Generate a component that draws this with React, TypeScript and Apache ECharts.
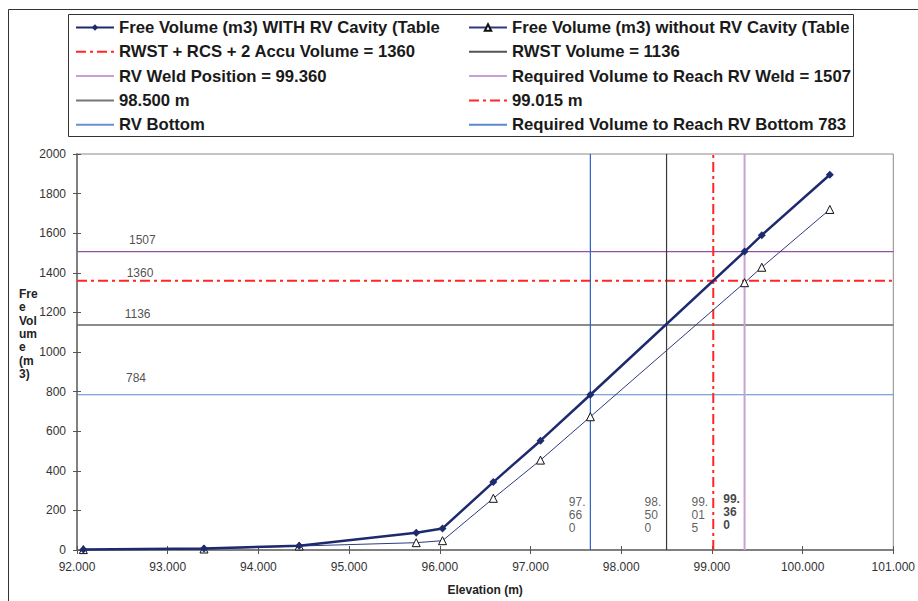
import React, { useEffect, useRef } from 'react';
import * as echarts from 'echarts';

// ---- data ----
const elevations = [92.07, 93.4, 94.45, 95.74, 96.03, 96.59, 97.11, 97.66, 99.36, 99.55, 100.3];
const volumeWithCavity = [3, 8, 22, 87, 109, 343, 552, 784, 1507, 1590, 1895];
const volumeWithoutCavity = [2, 5, 20, 37, 47, 261, 454, 673, 1350, 1428, 1720];

const seriesWithName = 'Free Volume (m3) WITH RV Cavity (Table';
const seriesWithoutName = 'Free Volume (m3) without RV Cavity (Table';

const hRefNames = [
  'Required Volume to Reach RV Weld = 1507',
  'RWST + RCS + 2 Accu Volume = 1360',
  'RWST Volume = 1136',
  'Required Volume to Reach RV Bottom 783',
];
const hRefValues = [1507, 1360, 1136, 784];
const hRefLabels = ['1507', '1360', '1136', '784'];

const vRefNames = ['RV Bottom', '98.500 m', '99.015 m', 'RV Weld Position = 99.360'];
const vRefValues = [97.66, 98.5, 99.015, 99.36];

const xMin = 92;
const xMax = 101;
const xStep = 1;
const yMin = 0;
const yMax = 2000;
const yStep = 200;

const legendLeftColumn = [
  seriesWithName,
  'RWST + RCS + 2 Accu Volume = 1360',
  'RV Weld Position = 99.360',
  '98.500 m',
  'RV Bottom',
];
const legendRightColumn = [
  seriesWithoutName,
  'RWST Volume = 1136',
  'Required Volume to Reach RV Weld = 1507',
  '99.015 m',
  'Required Volume to Reach RV Bottom 783',
];

// ---- styles ----
const FONT = '"Liberation Sans", Arial, sans-serif';
const dashDot = [10, 4, 3, 4];
const hRefStyles = [
  { color: '#9352A3', width: 1.2, type: 'solid' as any },
  { color: '#FF2626', width: 2, type: dashDot as any },
  { color: '#666666', width: 1.6, type: 'solid' as any },
  { color: '#5A8AD2', width: 1.2, type: 'solid' as any },
];
const vRefStyles = [
  { color: '#2C62C4', width: 1.2, type: 'solid' as any },
  { color: '#3a3a3a', width: 1.2, type: 'solid' as any },
  { color: '#FF2626', width: 2, type: dashDot as any },
  { color: '#C8A0D2', width: 2, type: 'solid' as any },
];
const legendLineOverrides: Record<string, string> = {
  'Required Volume to Reach RV Weld = 1507': '#C8A0D2',
  'RV Bottom': '#6A90D0',
  '98.500 m': '#777777',
  'RWST Volume = 1136': '#555555',
};
const hLabelOffsets = [
  [52, -11.5],
  [49.7, -7.7],
  [47.7, -11],
  [49, -16.5],
];
const vLabelOffsets = [
  [-21.5, -35],
  [-22, -35],
  [-21.8, -35],
  [-21.3, -38],
];

function splitElevation(v: number) {
  const s = v.toFixed(3);
  return s.slice(0, 3) + '\n' + s.slice(3, 5) + '\n' + s.slice(5);
}

export default function App() {
  const ref = useRef<HTMLDivElement>(null);

  useEffect(() => {
    if (!ref.current) return;
    const chart = echarts.init(ref.current, undefined, { renderer: 'svg' });

    const refSeries: any[] = [];
    hRefValues.forEach((v, i) => {
      refSeries.push({
        name: hRefNames[i],
        type: 'line',
        data: [
          [xMin, v],
          [xMax, v],
        ],
        symbol: 'none',
        silent: true,
        lineStyle: hRefStyles[i],
        itemStyle: { color: hRefStyles[i].color },
        z: 1,
      });
    });
    vRefValues.forEach((v, i) => {
      refSeries.push({
        name: vRefNames[i],
        type: 'line',
        data: [
          [v, yMin],
          [v, yMax],
        ],
        symbol: 'none',
        silent: true,
        lineStyle: vRefStyles[i],
        itemStyle: { color: vRefStyles[i].color },
        z: 1,
      });
    });

    const refNameSet = new Set([...hRefNames, ...vRefNames]);
    const hidden = 'rgba(0,0,0,0)';
    const makeLegendData = (names: string[]) =>
      names.map((n) => {
        const item: any = { name: n };
        if (refNameSet.has(n)) {
          item.itemStyle = { color: hidden, borderColor: hidden, borderWidth: 0 };
        }
        if (legendLineOverrides[n]) {
          item.lineStyle = { color: legendLineOverrides[n] };
        }
        return item;
      });

    const legendCommon = {
      orient: 'vertical',
      top: 18.5,
      itemWidth: 38,
      itemHeight: 8,
      itemGap: 6.3,
      padding: 0,
      selectedMode: false,
      textStyle: {
        fontFamily: FONT,
        fontSize: 16.7,
        fontWeight: 'bold',
        color: '#1a1a1a',
        lineHeight: 18,
      },
    };

    const option: any = {
      animation: false,
      backgroundColor: '#ffffff',
      grid: {
        left: 77,
        right: 18,
        top: 154,
        bottom: 50,
        show: true,
        borderColor: '#8a8a8a',
        borderWidth: 1,
        containLabel: false,
      },
      legend: [
        { ...legendCommon, left: 75, data: makeLegendData(legendLeftColumn) },
        { ...legendCommon, left: 468, data: makeLegendData(legendRightColumn) },
      ],
      xAxis: [
        {
          type: 'value',
          min: xMin,
          max: xMax,
          interval: xStep,
          name: 'Elevation (m)',
          nameLocation: 'middle',
          nameGap: 34,
          nameTextStyle: { fontFamily: FONT, fontSize: 12, fontWeight: 'bold', color: '#222' },
          axisLine: { show: true, lineStyle: { color: '#808080', width: 2 } },
          axisTick: { show: true, inside: false, length: 4, lineStyle: { color: '#555' } },
          axisLabel: {
            fontFamily: FONT,
            fontSize: 12,
            color: '#333',
            margin: 11,
            formatter: (v: number) => v.toFixed(3),
          },
          splitLine: { show: false },
        },
        {
          type: 'value',
          position: 'bottom',
          min: xMin,
          max: xMax,
          interval: xStep,
          axisLine: { show: false },
          axisTick: { show: true, inside: true, length: 4, lineStyle: { color: '#555' } },
          axisLabel: { show: false },
          splitLine: { show: false },
        },
      ],
      yAxis: [
        {
          type: 'value',
          min: yMin,
          max: yMax,
          interval: yStep,
          axisLine: { show: true, lineStyle: { color: '#808080', width: 2 } },
          axisTick: { show: true, inside: false, length: 4, lineStyle: { color: '#555' } },
          axisLabel: {
            fontFamily: FONT,
            fontSize: 12,
            color: '#333',
            margin: 11,
            formatter: (v: number) => String(v),
          },
          splitLine: { show: false },
        },
        {
          type: 'value',
          position: 'left',
          min: yMin,
          max: yMax,
          interval: yStep,
          axisLine: { show: false },
          axisTick: { show: true, inside: true, length: 4, lineStyle: { color: '#555' } },
          axisLabel: { show: false },
          splitLine: { show: false },
        },
      ],
      graphic: [
        {
          type: 'rect',
          shape: { x: 8.5, y: 9.5, width: 1000, height: 1000 },
          style: { fill: 'none', stroke: '#333', lineWidth: 1 },
          silent: true,
          z: -1,
        },
        {
          type: 'rect',
          shape: { x: 68.5, y: 14.5, width: 785, height: 122 },
          style: { fill: 'none', stroke: '#333', lineWidth: 1 },
          silent: true,
        },
        {
          type: 'text',
          x: 19,
          y: 334,
          style: {
            text: 'Fre\ne\nVol\num\ne\n(m\n3)',
            font: `bold 12px ${FONT}`,
            fill: '#222',
            lineHeight: 13.4,
            verticalAlign: 'middle',
            align: 'left',
          },
          silent: true,
        },
      ],
      series: [
        ...refSeries,
        {
          name: seriesWithoutName,
          type: 'line',
          data: elevations.map((x, i) => [x, volumeWithoutCavity[i]]),
          symbol: 'triangle',
          symbolSize: 8,
          lineStyle: { color: '#2E3B7E', width: 1 },
          itemStyle: { color: '#ffffff', borderColor: '#111', borderWidth: 1 },
          z: 3,
        },
        {
          name: seriesWithName,
          type: 'line',
          data: elevations.map((x, i) => [x, volumeWithCavity[i]]),
          symbol: 'diamond',
          symbolSize: 8,
          lineStyle: { color: '#1E2A6E', width: 2.5 },
          itemStyle: { color: '#1E2A6E' },
          z: 4,
        },
        {
          type: 'scatter',
          silent: true,
          symbolSize: 1,
          itemStyle: { color: 'rgba(0,0,0,0)' },
          data: hRefValues.map((v, i) => ({
            value: [xMin, v],
            label: { offset: hLabelOffsets[i] },
          })),
          label: {
            show: true,
            position: 'inside',
            align: 'left',
            verticalAlign: 'middle',
            fontFamily: FONT,
            fontSize: 12,
            color: '#222',
            formatter: (p: any) => hRefLabels[p.dataIndex],
          },
          z: 5,
        },
        {
          type: 'scatter',
          silent: true,
          symbolSize: 1,
          itemStyle: { color: 'rgba(0,0,0,0)' },
          data: vRefValues.map((v, i) => ({
            value: [v, yMin],
            label: {
              offset: vLabelOffsets[i],
              fontWeight: i === vRefValues.length - 1 ? 'bold' : 'normal',
              color: i === vRefValues.length - 1 ? '#111' : '#333',
            },
          })),
          label: {
            show: true,
            position: 'inside',
            align: 'left',
            verticalAlign: 'middle',
            fontFamily: FONT,
            fontSize: 12,
            lineHeight: 13.4,
            color: '#333',
            formatter: (p: any) => splitElevation(vRefValues[p.dataIndex]),
          },
          z: 5,
        },
      ],
    };

    chart.setOption(option);
    return () => chart.dispose();
  }, []);

  return (
    <div
      ref={ref}
      style={{ position: 'fixed', left: 0, top: 0, width: 918, height: 601, background: '#fff' }}
    />
  );
}
